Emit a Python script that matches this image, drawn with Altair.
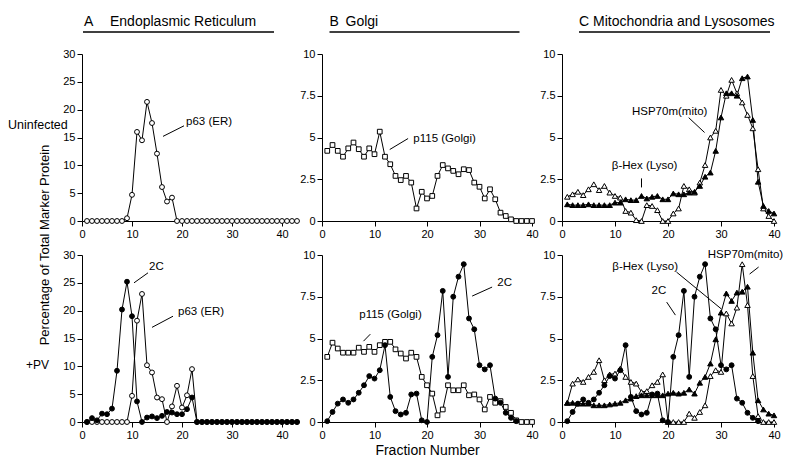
import altair as alt
import pandas as pd

FONT = "Liberation Sans"

# ---------------- data ----------------
frac_er = list(range(1, 44))   # ER gradient fractions
frac_40 = list(range(1, 41))   # Golgi / mito-lyso gradient fractions
frac_2c = list(range(1, 38))

# A  Endoplasmic Reticulum
er_p63_uninf = [0, 0, 0, 0, 0, 0, 0, 0, 0.5, 4.7, 16.0, 14.5, 21.4, 17.6, 12.1, 6.1, 3.5, 4.2, 0,
                0, 0, 0, 0, 0, 0, 0, 0, 0, 0, 0, 0, 0, 0, 0, 0, 0, 0, 0, 0, 0, 0, 0, 0]
er_p63_pv = [0, 0, 0, 0, 0, 0, 0, 0, 0, 4.7, 18.2, 23.0, 10.2, 8.9, 4.4, 4.1, 0, 2.8, 6.5, 2.6, 4.8, 9.5,
             0, 0, 0, 0, 0, 0, 0, 0, 0, 0, 0, 0, 0, 0, 0, 0, 0, 0, 0, 0, 0]
er_2c_pv = [0, 0.7, 0.3, 1.5, 1.4, 2.4, 9.2, 20.2, 25.2, 19.0, 3.7, 0, 0.8, 1.0, 0.7, 1.1, 1.8, 1.7, 1.4, 1.4, 2.3, 4.4,
            0, 0, 0, 0, 0, 0, 0, 0, 0, 0, 0, 0, 0, 0, 0, 0, 0, 0, 0, 0, 0]

# B  Golgi
golgi_p115_uninf = [4.2, 4.55, 4.2, 3.85, 4.35, 4.7, 4.3, 3.85, 4.35, 4.0, 5.35, 3.85, 3.4, 2.7, 2.45, 2.7,
                    2.3, 0.75, 1.75, 1.35, 1.5, 2.7, 3.35, 3.15, 3.0, 2.8, 3.1, 3.05, 2.3, 2.05, 1.35, 1.9,
                    1.3, 0.5, 0.3, 0.1, 0, 0, 0, 0]
golgi_p115_pv = [3.9, 4.75, 4.4, 4.15, 4.15, 4.15, 4.45, 4.2, 4.5, 4.2, 4.6, 4.8, 4.8, 4.35, 4.1, 3.8,
                 4.15, 3.9, 2.7, 2.2, 1.7, 0.4, 0.75, 2.2, 1.9, 1.9, 2.2, 1.6, 1.65, 1.35, 0.75, 1.5,
                 1.15, 1.25, 0.9, 0.55, 0.1, 0, 0, 0]
pv_2c = [0.05, 0.6, 1.1, 1.35, 1.15, 1.35, 1.75, 2.2, 2.75, 2.6, 3.1, 4.6, 1.5, 0.65, 0.45, 0.55, 1.65,
         1.7, 0.1, 0, 3.9, 5.2, 7.85, 2.7, 7.5, 8.7, 9.45, 6.2, 5.55, 3.4, 3.15, 3.4, 1.4, 1.15, 0.55,
         0.25, 0.05]

# C  Mitochondria and Lysosomes
mito_hsp70_uninf = [1.45, 1.6, 1.75, 1.55, 1.9, 2.2, 1.85, 2.1, 1.7, 1.5, 1.4, 0.6, 0.5, 0.05, 0, 0.95,
                    0.9, 0.65, 0, 0, 0.45, 0.75, 2.1, 1.9, 1.7, 2.3, 3.35, 5.0, 5.4, 7.85, 7.5, 8.45,
                    7.65, 7.1, 6.35, 5.55, 3.1, 0.75, 0.3, 0]
lyso_hex_uninf = [1.0, 0.95, 0.95, 0.95, 1.0, 0.95, 0.95, 0.95, 0.95, 1.1, 1.1, 1.3, 1.25, 1.25, 1.5,
                  1.35, 1.45, 1.5, 1.3, 1.3, 1.65, 1.6, 1.6, 1.7, 1.75, 2.1, 2.65, 2.9, 4.2, 6.2, 7.65,
                  7.65, 7.5, 8.55, 8.65, 6.05, 2.35, 0.9, 0.6, 0.45]
mito_hsp70_pv = [1.15, 2.3, 2.55, 2.4, 2.7, 3.0, 3.7, 2.5, 2.85, 2.9, 3.2, 2.7, 2.4, 2.3, 1.8, 1.85, 2.2,
                 2.4, 2.85, 0, 0, 0, 0, 0.5, 0.25, 0.6, 1.0, 2.75, 3.1, 3.0, 6.5, 5.9, 6.85, 9.45, 7.0,
                 2.75, 0.35, 0, 0, 0]
lyso_hex_pv = [1.15, 1.15, 1.1, 1.1, 1.1, 1.0, 1.0, 1.0, 1.05, 1.1, 1.15, 1.3, 1.4, 1.55, 1.6, 1.6, 1.6,
               1.6, 1.6, 1.7, 1.75, 1.7, 1.75, 1.95, 1.7, 2.35, 2.7, 3.5, 4.95, 6.55, 7.7, 7.25, 7.75,
               7.8, 8.1, 4.15, 1.3, 0.75, 0.5, 0.4]

x_ticks = [0, 10, 20, 30, 40]
y_ticks_er = [0, 5, 10, 15, 20, 25, 30]
y_ticks_10 = [0, 2.5, 5, 7.5, 10]

titles = [("A", "Endoplasmic Reticulum"), ("B", "Golgi"), ("C", "Mitochondria and Lysosomes")]
row_labels = ["Uninfected", "+PV"]
y_title = "Percentage of Total Marker Protein"
x_title = "Fraction Number"

SIZES = {"circle": 24, "square": 22, "triangle-up": 30}


def one_row(label):
    return pd.DataFrame({"t": [label]})


def panel(series, xdom, ydom, yticks, width, height, notes=(), leaders=(),
          pix_texts=(), pix_rules=(), xtitle=None):
    xs = alt.Scale(domain=xdom, nice=False, zero=False)
    ys = alt.Scale(domain=ydom, nice=False, zero=False)
    xax = alt.Axis(values=x_ticks, title=xtitle, format="d", labelFlush=False,
                   titleFont=FONT, titleFontSize=14, titleFontWeight="normal",
                   titlePadding=3, titleColor="black")
    yax = alt.Axis(values=yticks, title=None, format=".1~f", labelFlush=False)

    lines, points = [], []
    for fx, vals, shape, filled in series:
        df = pd.DataFrame({"f": fx, "v": vals})
        enc = dict(x=alt.X("f:Q", scale=xs, axis=xax), y=alt.Y("v:Q", scale=ys, axis=yax))
        lines.append(alt.Chart(df).mark_line(color="black", strokeWidth=1).encode(**enc))
        points.append(alt.Chart(df).mark_point(shape=shape, filled=True,
                                               fill="black" if filled else "white",
                                               stroke="black", strokeWidth=1,
                                               size=SIZES[shape], opacity=1).encode(**enc))
    layers = lines + points

    if leaders:
        ldf = pd.DataFrame(list(leaders), columns=["x1", "y1", "x2", "y2"])
        layers.append(alt.Chart(ldf).mark_rule(color="black", strokeWidth=1).encode(
            x=alt.X("x1:Q", scale=xs, axis=xax), x2="x2:Q",
            y=alt.Y("y1:Q", scale=ys, axis=yax), y2="y2:Q"))
    if notes:
        ndf = pd.DataFrame(list(notes), columns=["t", "x", "y"])
        layers.append(alt.Chart(ndf).mark_text(align="left", baseline="middle", font=FONT,
                                               fontSize=11.5, color="black").encode(
            x=alt.X("x:Q", scale=xs, axis=xax), y=alt.Y("y:Q", scale=ys, axis=yax), text="t:N"))
    for label, px, py, fs, angle, align in pix_texts:
        mk = dict(align=align, baseline="middle", font=FONT, fontSize=fs, color="black")
        if angle:
            mk["angle"] = angle
        layers.append(alt.Chart(one_row(label)).mark_text(**mk).encode(
            x=alt.value(px), y=alt.value(py), text="t:N"))
    for x1, x2, py in pix_rules:
        layers.append(alt.Chart(one_row("")).mark_rule(color="black", strokeWidth=1.5).encode(
            x=alt.value(x1), x2=alt.value(x2), y=alt.value(py)))
    return alt.layer(*layers).properties(width=width, height=height)


H = 167
A1 = panel([(frac_er, er_p63_uninf, "circle", False)], [0, 42], [0, 30], y_ticks_er, 210, H,
           notes=[("p63 (ER)", 20.8, 17.7)], leaders=[(20.4, 17.1, 16.2, 15.2)],
           pix_texts=[(titles[0][0], 2, -32, 14, 0, "left"), (titles[0][1], 28, -32, 14, 0, "left"),
                      (row_labels[0], -74, 71, 12.5, 0, "left")],
           pix_rules=[(1, 192, -22)])
A2 = panel([(frac_er, er_p63_pv, "circle", False), (frac_er, er_2c_pv, "circle", True)],
           [0, 42], [0, 30], y_ticks_er, 210, H,
           notes=[("2C", 13.4, 27.8), ("p63 (ER)", 19.2, 19.7)],
           leaders=[(13.2, 26.8, 10.4, 25.0), (18.2, 19.0, 14.0, 17.0)],
           pix_texts=[(row_labels[1], -56, 110, 12, 0, "left"),
                      (y_title, -37, -10, 13, 270, "center")])
B1 = panel([(frac_40, golgi_p115_uninf, "square", False)], [0, 40], [0, 10], y_ticks_10, 210, H,
           notes=[("p115 (Golgi)", 17.4, 4.94)], leaders=[(16.4, 4.94, 12.9, 4.28)],
           pix_texts=[(titles[1][0], 7.5, -32, 14, 0, "left"), (titles[1][1], 23.5, -32, 14, 0, "left")],
           pix_rules=[(7.5, 197.5, -22)])
B2 = panel([(frac_40, golgi_p115_pv, "square", False), (frac_2c, pv_2c, "circle", True)],
           [0, 40], [0, 10], y_ticks_10, 210, H,
           notes=[("p115 (Golgi)", 7.1, 6.4), ("2C", 33.4, 8.3)],
           leaders=[(9.2, 5.26, 7.9, 4.84), (32.4, 8.08, 28.6, 7.54)],
           xtitle=x_title)
C1 = panel([(frac_40, mito_hsp70_uninf, "triangle-up", False), (frac_40, lyso_hex_uninf, "triangle-up", True)],
           [0, 40], [0, 10], y_ticks_10, 212, H,
           notes=[("HSP70m(mito)", 13.2, 6.55), ("β-Hex (Lyso)", 9.4, 3.27)],
           leaders=[(23.9, 6.19, 26.9, 5.3), (15.0, 2.55, 15.0, 2.01)],
           pix_texts=[(titles[2][0], 17, -32, 14, 0, "left"), (titles[2][1], 31, -32, 14, 0, "left")],
           pix_rules=[(17, 208, -22)])
C2 = panel([(frac_40, mito_hsp70_pv, "triangle-up", False), (frac_40, lyso_hex_pv, "triangle-up", True),
            (frac_2c, pv_2c, "circle", True)],
           [0, 40], [0, 10], y_ticks_10, 212, H,
           notes=[("HSP70m(mito)", 27.5, 10.0), ("β-Hex (Lyso)", 9.5, 9.28), ("2C", 16.9, 7.84)],
           leaders=[(37.1, 9.28, 35.4, 8.86), (21.6, 8.98, 30.1, 6.76), (19.75, 7.18, 21.4, 6.4)])

chart = alt.concat(A1, B1, C1, A2, B2, C2, columns=3,
                   spacing={"row": 34, "column": 30}, bounds="flush", align="none").properties(
    padding={"left": 0, "top": 7, "right": 0, "bottom": 0}
).configure_view(strokeWidth=0).configure_axis(
    domainColor="black", tickColor="black", labelColor="black", labelFont=FONT,
    labelFontSize=11, tickSize=5, grid=False, labelPadding=2, domainWidth=1, tickWidth=1
)

chart.save("out.html", embed_options={"renderer": "svg", "actions": False})
